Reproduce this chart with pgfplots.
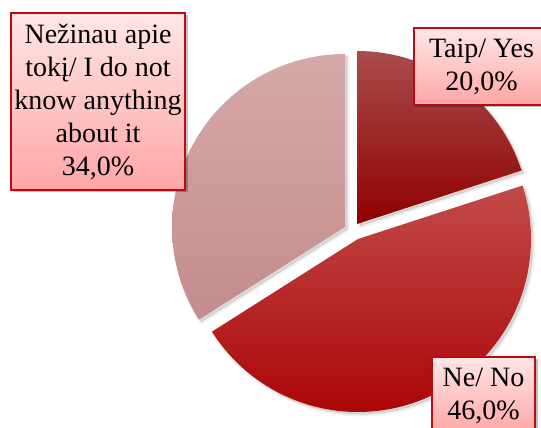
\documentclass[border=0pt]{standalone}
\usepackage{pgfplots}
\pgfplotsset{compat=1.18}
\usepackage{pgfplotstable}
\usepackage{fontspec}
\setmainfont{Liberation Serif}
\newfontfamily\lserif{Liberation Serif}
\usetikzlibrary{shadows}

\definecolor{yesTop}{RGB}{168,76,76}
\definecolor{yesMid}{RGB}{148,6,6}
\definecolor{yesBot}{RGB}{144,0,0}
\definecolor{noTop}{RGB}{194,74,74}
\definecolor{noMid}{RGB}{178,18,18}
\definecolor{noBot}{RGB}{172,6,6}
\definecolor{pkTop}{RGB}{214,168,168}
\definecolor{pkBot}{RGB}{196,140,140}
\definecolor{boxTop}{RGB}{255,230,230}
\definecolor{boxBot}{RGB}{255,166,166}
\definecolor{boxLine}{RGB}{186,10,20}

% slice: value (percent), tip of the exploded slice (x, y)
\pgfplotstableread{
label value tipx tipy
Yes 20 357 204
No 46 358 189
DontKnow 34 345 201
}\piedata

\pgfplotstablegetelem{0}{value}\of\piedata \let\vA\pgfplotsretval
\pgfplotstablegetelem{1}{value}\of\piedata \let\vB\pgfplotsretval
\pgfplotstablegetelem{2}{value}\of\piedata \let\vC\pgfplotsretval
\pgfplotstablegetelem{0}{tipx}\of\piedata \let\xA\pgfplotsretval
\pgfplotstablegetelem{1}{tipx}\of\piedata \let\xB\pgfplotsretval
\pgfplotstablegetelem{2}{tipx}\of\piedata \let\xC\pgfplotsretval
\pgfplotstablegetelem{0}{tipy}\of\piedata \let\yA\pgfplotsretval
\pgfplotstablegetelem{1}{tipy}\of\piedata \let\yB\pgfplotsretval
\pgfplotstablegetelem{2}{tipy}\of\piedata \let\yC\pgfplotsretval

\pgfmathsetmacro{\aA}{90}
\pgfmathsetmacro{\aB}{\aA-3.6*\vA}
\pgfmathsetmacro{\aC}{\aB-3.6*\vB}
\pgfmathsetmacro{\aD}{\aC-3.6*\vC}
\def\R{173}
\def\sx{2.5}
\def\sy{-2.5}

\tikzset{
  lbl/.style={font=\lserif\fontsize{28}{33}\selectfont, align=center, inner sep=0pt,
     draw=boxLine, line width=1.4pt, top color=boxTop, bottom color=boxBot,
     drop shadow={shadow xshift=2.5pt, shadow yshift=-2.5pt, opacity=0.25, fill=black}},
  shd/.style={draw=black, draw opacity=0.05, line width=4pt, fill=black, fill opacity=0.13, line join=round},
}

\begin{document}
\begin{tikzpicture}
\begin{axis}[
  scale only axis, width=541pt, height=428pt,
  xmin=0, xmax=541, ymin=0, ymax=428,
  axis lines=none, clip=false,
]
% soft shadows of the slices
\addplot[shd, domain=\aB:\aA, samples=90]
  ({\xA+\sx+\R*cos(x)},{\yA+\sy+\R*sin(x)}) -- (axis cs:\xA+\sx,\yA+\sy) -- cycle;
\addplot[shd, domain=\aC:\aB, samples=150]
  ({\xB+\sx+\R*cos(x)},{\yB+\sy+\R*sin(x)}) -- (axis cs:\xB+\sx,\yB+\sy) -- cycle;
\addplot[shd, domain=\aD:\aC, samples=110]
  ({\xC+\sx+\R*cos(x)},{\yC+\sy+\R*sin(x)}) -- (axis cs:\xC+\sx,\yC+\sy) -- cycle;

% Taip / Yes
\addplot[draw=none, top color=yesTop, middle color=yesMid, bottom color=yesBot,
  domain=\aB:\aA, samples=90]
  ({\xA+\R*cos(x)},{\yA+\R*sin(x)}) -- (axis cs:\xA,\yA) -- cycle;
% Ne / No
\addplot[draw=none, top color=noTop, middle color=noMid, bottom color=noBot,
  domain=\aC:\aB, samples=150]
  ({\xB+\R*cos(x)},{\yB+\R*sin(x)}) -- (axis cs:\xB,\yB) -- cycle;
% Nezinau
\addplot[draw=none, top color=pkTop, bottom color=pkBot,
  domain=\aD:\aC, samples=110]
  ({\xC+\R*cos(x)},{\yC+\R*sin(x)}) -- (axis cs:\xC,\yC) -- cycle;

\node[lbl, minimum width=174pt, minimum height=177pt] at (axis cs:98,326.5)
  {Nežinau apie\\tokį/ I do not\\know anything\\about it\\34,0\%};
\node[lbl, minimum width=135pt, minimum height=77pt] at (axis cs:481.5,361.5)
  {Taip/ Yes\\20,0\%};
\node[lbl, minimum width=103pt, minimum height=77pt] at (axis cs:483.5,32.5)
  {Ne/ No\\46,0\%};
\end{axis}
\pgfresetboundingbox
\useasboundingbox (0,0) rectangle (541pt,428pt);
\end{tikzpicture}
\end{document}
